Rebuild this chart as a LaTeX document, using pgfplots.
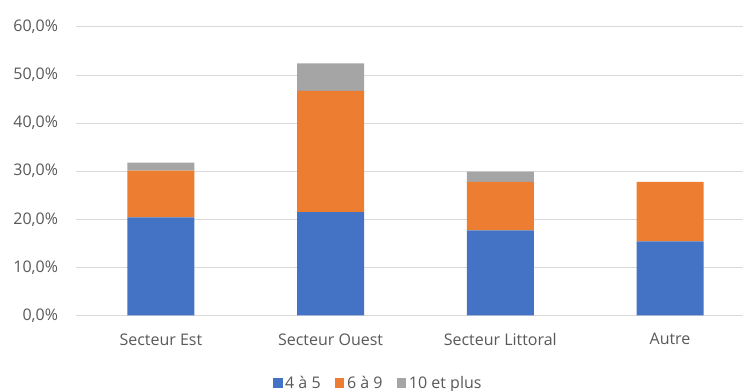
\documentclass[border=0pt]{standalone}
\usepackage{fontspec}
\setmainfont{Open Sans}
\usepackage{pgfplots}
\pgfplotsset{compat=1.18}

\definecolor{cblue}{HTML}{4472C4}
\definecolor{corange}{HTML}{ED7D31}
\definecolor{cgray}{HTML}{A5A5A5}
\definecolor{cgrid}{HTML}{D9D9D9}
\definecolor{ctext}{HTML}{595959}

\begin{document}
\begin{tikzpicture}
\begin{axis}[
    at={(0,0)}, anchor=south west,
    scale only axis,
    width=500.25pt, height=216.4pt,
    ybar stacked,
    bar width=0.395,
    xmin=-0.5, xmax=3.43,
    ymin=0, ymax=60,
    xtick={0,1,2,3},
    xticklabels={Secteur Est,Secteur Ouest,Secteur Littoral,Autre},
    ytick={0,10,20,30,40,50,60},
    yticklabels={{0,0\%},{10,0\%},{20,0\%},{30,0\%},{40,0\%},{50,0\%},{60,0\%}},
    ymajorgrids,
    grid style={cgrid, line width=0.75pt},
    axis line style={draw=none},
    major tick length=0pt,
    tick label style={font=\fontsize{12}{14}\selectfont, text=ctext},
    xticklabel style={yshift=-10pt},
    yticklabel style={xshift=-10pt},
    legend style={
        at={(0.454,-0.234)}, anchor=center,
        legend columns=3, draw=none,
        font=\fontsize{12}{14}\selectfont, text=ctext,
        /tikz/every even column/.append style={column sep=9pt},
    },
    legend image code/.code={
        \fill[#1] (0pt,-3.4pt) rectangle (6.8pt,3.4pt);
    },
]

\addplot[fill=cblue, draw=none] coordinates {
    (0,20.4) (1,21.5) (2,17.7) (3,15.4)
};
\addplot[fill=corange, draw=none] coordinates {
    (0,9.7) (1,25.2) (2,10.1) (3,12.4)
};
\addplot[fill=cgray, draw=none] coordinates {
    (0,1.7) (1,5.7) (2,2.1) (3,0)
};

\legend{4 à 5,6 à 9,10 et plus}

\end{axis}
\pgfresetboundingbox
\path[use as bounding box] (-57pt,-56.6pt) rectangle (500.25pt,236.6pt);
\end{tikzpicture}
\end{document}
